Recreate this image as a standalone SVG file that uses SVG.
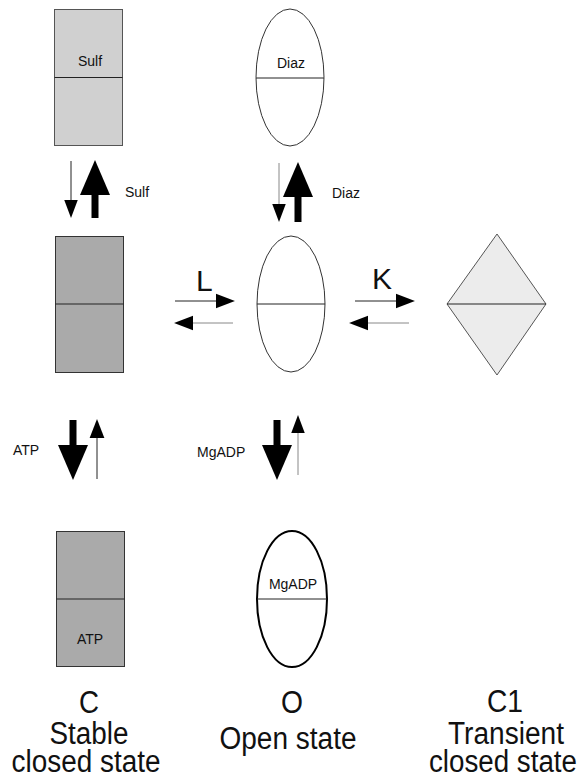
<svg xmlns="http://www.w3.org/2000/svg" width="581" height="777" viewBox="0 0 581 777">
<style>
text{font-family:"Liberation Sans",Arial,sans-serif;fill:#111}
.s{font-size:14px}
.big{font-size:30px}
.lab{font-size:31px;text-anchor:middle}
.mid{text-anchor:middle}
.div{stroke:#222;stroke-width:1}
.thin{stroke:#222;stroke-width:1;fill:none}
.gray{stroke:#888;stroke-width:1;fill:none}
.thick{stroke:#000;stroke-width:7;fill:none}
</style>
<defs>
<marker id="hb" markerUnits="userSpaceOnUse" markerWidth="36" markerHeight="32" refX="0" refY="15" orient="auto" viewBox="0 0 36 30">
<path d="M0,0 L35,15 L0,30 Z" fill="#000"/>
</marker>
<marker id="hs" markerUnits="userSpaceOnUse" markerWidth="20" markerHeight="16" refX="0" refY="7" orient="auto" viewBox="0 0 19 14">
<path d="M0,0 L18,7 L0,14 Z" fill="#000"/>
</marker>
<marker id="hn" markerUnits="userSpaceOnUse" markerWidth="18" markerHeight="14" refX="0" refY="6" orient="auto" viewBox="0 0 16 12">
<path d="M0,0 L16,6 L0,12 Z" fill="#000"/>
</marker>
</defs>

<g id="node-sulf">
<rect x="54.5" y="9.5" width="68" height="136" fill="#d0d0d0" stroke="#555" stroke-width="1"/>
<line class="div" x1="54.5" y1="77.5" x2="122.5" y2="77.5"/>
<text class="s mid" x="90" y="66">Sulf</text>
</g>
<g id="node-diaz">
<ellipse cx="290" cy="77.5" rx="34" ry="68.5" fill="#fff" stroke="#333" stroke-width="1"/>
<line class="div" x1="256" y1="78" x2="324" y2="78"/>
<text class="s mid" x="291" y="68">Diaz</text>
</g>
<g id="node-C">
<rect x="55.5" y="236.5" width="68" height="136" fill="#aaaaaa" stroke="#333" stroke-width="1"/>
<line class="div" x1="55.5" y1="304" x2="123.5" y2="304"/>
</g>
<g id="node-O">
<ellipse cx="291" cy="304" rx="34" ry="68" fill="#fff" stroke="#333" stroke-width="1"/>
<line class="div" x1="257" y1="304" x2="325" y2="304"/>
</g>
<g id="node-C1">
<polygon points="497,234 546,304 497,375 447,304" fill="#ececec" stroke="#555" stroke-width="1"/>
<line class="div" x1="447" y1="304" x2="546" y2="304"/>
</g>
<g id="node-ATP">
<rect x="56.5" y="531.5" width="68" height="135" fill="#aaaaaa" stroke="#333" stroke-width="1"/>
<line class="div" x1="56.5" y1="599" x2="124.5" y2="599"/>
<text class="s mid" x="90" y="644">ATP</text>
</g>
<g id="node-MgADP">
<ellipse cx="292" cy="599" rx="35" ry="68" fill="#fff" stroke="#000" stroke-width="2"/>
<line class="div" x1="257" y1="599" x2="327" y2="599"/>
<text class="s mid" x="293" y="589">MgADP</text>
</g>

<g id="connectors">
<line class="thin" x1="71" y1="161" x2="71" y2="200" marker-end="url(#hn)"/>
<line class="thick" x1="95" y1="218" x2="95" y2="195" marker-end="url(#hb)"/>
<line class="gray" x1="279" y1="163" x2="279" y2="204" marker-end="url(#hn)"/>
<line class="thick" x1="298" y1="222" x2="298" y2="197" marker-end="url(#hb)"/>
<line class="thin" x1="175" y1="301" x2="216" y2="301" marker-end="url(#hs)"/>
<line class="gray" x1="233" y1="323" x2="193" y2="323" marker-end="url(#hs)"/>
<line class="thin" x1="355" y1="301" x2="396" y2="301" marker-end="url(#hs)"/>
<line class="gray" x1="409" y1="323" x2="368" y2="323" marker-end="url(#hs)"/>
<line class="thick" x1="73" y1="420" x2="73" y2="445" marker-end="url(#hb)"/>
<line class="thin" x1="97" y1="479" x2="97" y2="438" marker-end="url(#hs)"/>
<line class="thick" x1="277" y1="420" x2="277" y2="445" marker-end="url(#hb)"/>
<line class="gray" x1="298" y1="475" x2="298" y2="433" marker-end="url(#hn)"/>
</g>

<g id="labels">
<text class="s" x="125" y="197">Sulf</text>
<text class="s" x="332" y="198">Diaz</text>
<text class="big" x="196" y="291">L</text>
<text class="big" x="372" y="289">K</text>
<text class="s" x="13" y="455">ATP</text>
<text class="s" x="197" y="457">MgADP</text>
<text class="lab" x="89" y="713" textLength="20" lengthAdjust="spacingAndGlyphs">C</text>
<text class="lab" x="89" y="744" textLength="79" lengthAdjust="spacingAndGlyphs">Stable</text>
<text class="lab" x="86" y="772" textLength="149" lengthAdjust="spacingAndGlyphs">closed state</text>
<text class="lab" x="292" y="713" textLength="22" lengthAdjust="spacingAndGlyphs">O</text>
<text class="lab" x="288" y="749" textLength="137" lengthAdjust="spacingAndGlyphs">Open state</text>
<text class="lab" x="505" y="712" textLength="36" lengthAdjust="spacingAndGlyphs">C1</text>
<text class="lab" x="506" y="744" textLength="116" lengthAdjust="spacingAndGlyphs">Transient</text>
<text class="lab" x="503" y="772" textLength="148" lengthAdjust="spacingAndGlyphs">closed state</text>
</g>
</svg>
